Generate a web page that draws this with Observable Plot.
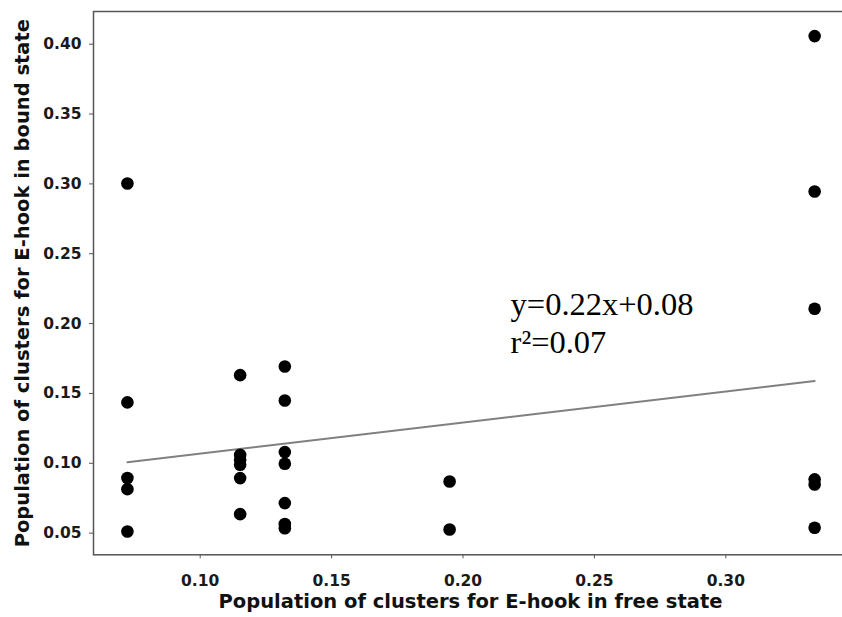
<!DOCTYPE html>
<html>
<head>
<meta charset="utf-8">
<script src="https://cdn.jsdelivr.net/npm/d3@7"></script>
<script src="https://cdn.jsdelivr.net/npm/@observablehq/plot@0.6"></script>
<style>
  html, body { margin: 0; padding: 0; background: white; overflow: hidden; }
</style>
</head>
<body>
<div id="chart"></div>
<script>
// Free-state population (x) for each cluster
const freePop = [
  0.0723, 0.0723, 0.0723, 0.0723, 0.0723,
  0.1152, 0.1152, 0.1152, 0.1152, 0.1152, 0.1152,
  0.1322, 0.1322, 0.1322, 0.1322, 0.1322, 0.1322, 0.1322,
  0.1949, 0.1949,
  0.3338, 0.3338, 0.3338, 0.3338, 0.3338, 0.3338
];
// Bound-state population (y) for each cluster
const boundPop = [
  0.3003, 0.1436, 0.0895, 0.0815, 0.0512,
  0.1631, 0.1060, 0.1025, 0.0990, 0.0894, 0.0636,
  0.1693, 0.1450, 0.1080, 0.0997, 0.0715, 0.0565, 0.0535,
  0.0870, 0.0526,
  0.4058, 0.2946, 0.2106, 0.0885, 0.0848, 0.0539
];
// Fitted line end points as drawn
const fitX = [0.0723, 0.3338];
const fitY = [0.1008, 0.1589];
// Tick values
const xTicks = [0.10, 0.15, 0.20, 0.25, 0.30];
const yTicks = [0.05, 0.10, 0.15, 0.20, 0.25, 0.30, 0.35, 0.40];
// Annotation
const annoLines = ["y=0.22x+0.08", "r\u00B2=0.07"];
const annoX = [0.2181, 0.2181];
const annoY = [0.2058, 0.1786];

const points = freePop.map((x, i) => ({x, y: boundPop[i]}));
const fit = fitX.map((x, i) => ({x, y: fitY[i]}));
const anno = annoLines.map((t, i) => ({t, x: annoX[i], y: annoY[i]}));

const chart = Plot.plot({
  width: 842,
  height: 617,
  marginLeft: 93,
  marginTop: 11,
  marginRight: -5,
  marginBottom: 62.7,
  style: {fontFamily: "DejaVu Sans", background: "white", color: "#1a1a1a"},
  x: {domain: [0.0594, 0.3463]},
  y: {domain: [0.0345, 0.4234]},
  marks: [
    Plot.axisX({
      ticks: xTicks, tickSize: 4, tickPadding: 16, tickFormat: d3.format(".2f"),
      fontSize: 15.5, fontWeight: "bold", stroke: "#555", label: null
    }),
    Plot.axisY({
      ticks: yTicks, tickSize: 4, tickPadding: 8, tickFormat: d3.format(".2f"),
      fontSize: 15.5, fontWeight: "bold", stroke: "#555", label: null
    }),
    Plot.line(fit, {x: "x", y: "y", stroke: "#808080", strokeWidth: 2}),
    Plot.dot(points, {x: "x", y: "y", r: 6.3, fill: "black", stroke: "none"}),
    Plot.text(anno, {
      x: "x", y: "y", text: "t", textAnchor: "start", lineAnchor: "bottom",
      fontFamily: "Liberation Serif", fontSize: 32.5, fill: "black"
    }),
    Plot.text(["Population of clusters for E-hook in free state"], {
      frameAnchor: "bottom", dy: 47, lineAnchor: "middle", textAnchor: "middle",
      fontSize: 19.5, fontWeight: "bold", fill: "#111"
    }),
    Plot.text(["Population of clusters for E-hook in bound state"], {
      frameAnchor: "left", dx: -71, rotate: -90, lineAnchor: "middle", textAnchor: "middle",
      fontSize: 19.5, fontWeight: "bold", fill: "#111"
    }),
    Plot.frame({stroke: "#555", strokeWidth: 1.5})
  ]
});
document.getElementById("chart").appendChild(chart);
</script>
</body>
</html>
